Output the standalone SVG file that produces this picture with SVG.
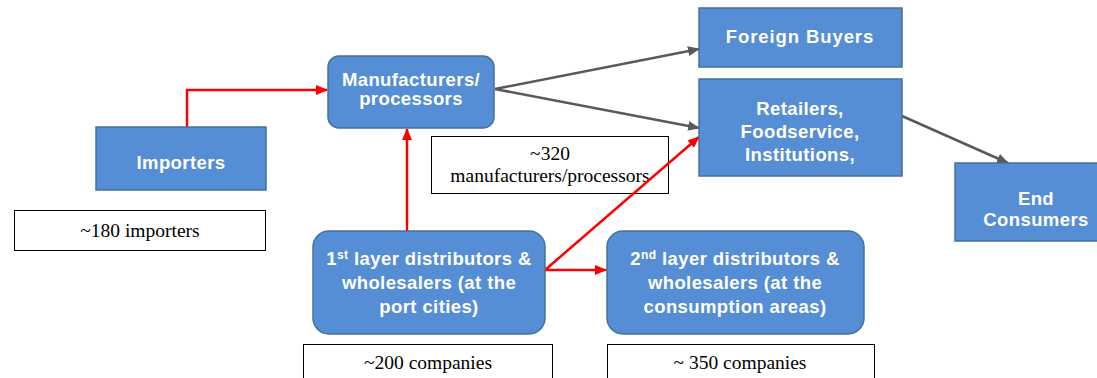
<svg xmlns="http://www.w3.org/2000/svg" width="1097" height="378" viewBox="0 0 1097 378">
<style>
.n{fill:#558ed5;stroke:#41719c;stroke-width:1.5}
.t{font-family:"Liberation Sans",Arial,sans-serif;font-weight:bold;font-size:18.5px;fill:#fff;text-anchor:middle;letter-spacing:0.4px}
.lb{fill:#fff;stroke:#000;stroke-width:1}
.s{font-family:"Liberation Serif","Times New Roman",serif;font-size:19.5px;fill:#000;text-anchor:middle}
.g{stroke:#595959;stroke-width:2.5;fill:none}
.r{stroke:#ff0000;stroke-width:2.5;fill:none}
</style>
<defs>
<marker id="ag" markerWidth="12" markerHeight="10" refX="11" refY="5" orient="auto" markerUnits="userSpaceOnUse"><path d="M0,0 L12,5 L0,10 z" fill="#595959"/></marker>
<marker id="ar" markerWidth="12" markerHeight="10" refX="11" refY="5" orient="auto" markerUnits="userSpaceOnUse"><path d="M0,0 L12,5 L0,10 z" fill="#ff0000"/></marker>
</defs>
<g id="importers-count">
<rect class="lb" x="14.5" y="210.5" width="251" height="40"/>
<text class="s" x="140" y="237">~180 importers</text>
</g>
<g id="manufacturers-count">
<rect class="lb" x="431.5" y="136.5" width="237" height="57"/>
<text class="s" x="550" y="160">~320</text>
<text class="s" x="550" y="182">manufacturers/processors</text>
</g>
<g id="first-layer-count">
<rect class="lb" x="303.5" y="344.5" width="249" height="50"/>
<text class="s" x="428" y="369">~200 companies</text>
</g>
<g id="second-layer-count">
<rect class="lb" x="607.5" y="344.5" width="267" height="50"/>
<text class="s" x="740" y="369">~ 350 companies</text>
</g>
<g id="connectors">
<polyline class="r" points="187,127 187,90 327,90" marker-end="url(#ar)"/>
<line class="r" x1="407" y1="231" x2="407" y2="129" marker-end="url(#ar)"/>
<line class="r" x1="545" y1="270" x2="606" y2="270" marker-end="url(#ar)"/>
<line class="r" x1="545" y1="270" x2="699" y2="137" marker-end="url(#ar)"/>
<line class="g" x1="495" y1="89" x2="699" y2="49" marker-end="url(#ag)"/>
<line class="g" x1="495" y1="89" x2="699" y2="128" marker-end="url(#ag)"/>
<line class="g" x1="902" y1="116" x2="1008" y2="163" marker-end="url(#ag)"/>
</g>
<g id="importers">
<rect class="n" x="96" y="127" width="170" height="63"/>
<text class="t" x="181" y="169">Importers</text>
</g>
<g id="manufacturers">
<rect class="n" x="328" y="56" width="166" height="72" rx="11"/>
<text class="t" x="411" y="86">Manufacturers/</text>
<text class="t" x="411" y="105">processors</text>
</g>
<g id="foreign-buyers">
<rect class="n" x="699" y="8" width="203" height="59"/>
<text class="t" x="800" y="43" style="letter-spacing:0.9px">Foreign Buyers</text>
</g>
<g id="retailers">
<rect class="n" x="699" y="79" width="203" height="97"/>
<text class="t" x="800" y="115">Retailers,</text>
<text class="t" x="800" y="138">Foodservice,</text>
<text class="t" x="800" y="161">Institutions,</text>
</g>
<g id="end-consumers">
<rect class="n" x="955" y="163" width="170" height="78"/>
<text class="t" x="1036" y="205">End</text>
<text class="t" x="1036" y="226">Consumers</text>
</g>
<g id="first-layer">
<rect class="n" x="313" y="231" width="232" height="103" rx="16"/>
<text class="t" x="429" y="265">1<tspan font-size="12" dy="-6">st</tspan><tspan dy="6"> layer distributors &amp;</tspan></text>
<text class="t" x="429" y="289">wholesalers (at the</text>
<text class="t" x="429" y="313">port cities)</text>
</g>
<g id="second-layer">
<rect class="n" x="607" y="231" width="257" height="103" rx="16"/>
<text class="t" x="735" y="265">2<tspan font-size="12" dy="-6">nd</tspan><tspan dy="6"> layer distributors &amp;</tspan></text>
<text class="t" x="735" y="289">wholesalers (at the</text>
<text class="t" x="735" y="313">consumption areas)</text>
</g>
</svg>
